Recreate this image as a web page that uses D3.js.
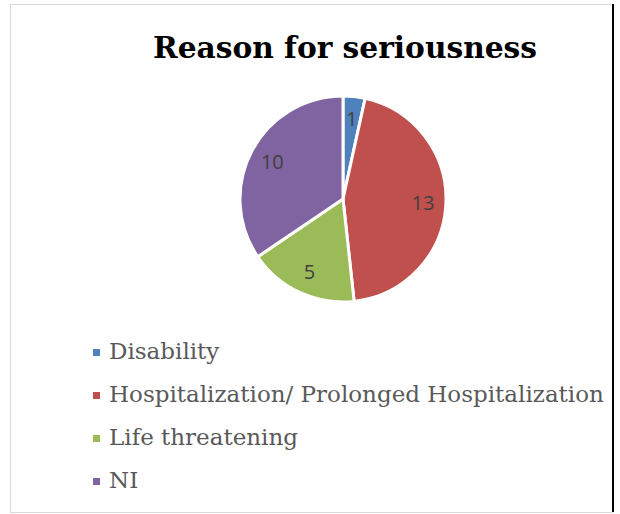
<!DOCTYPE html>
<html>
<head>
<meta charset="utf-8">
<script src="https://cdn.jsdelivr.net/npm/d3@7"></script>
<style>
  body { margin: 0; background: #fff; }
</style>
</head>
<body>
<script>
const categories = ["Disability", "Hospitalization/ Prolonged Hospitalization", "Life threatening", "NI"];
const values = [1, 13, 5, 10];
const colors = ["#4F81BD", "#C0504D", "#9BBB59", "#8064A2"];
const title = "Reason for seriousness";

const w = 620;
const h = 514;

const svg = d3.select("body")
  .append("svg")
  .attr("width", w)
  .attr("height", h);

// chart frame
svg.append("rect")
  .attr("x", 10.5).attr("y", 4.5)
  .attr("width", 602).attr("height", 508)
  .attr("fill", "#fff")
  .attr("stroke", "#d9d9d9");
svg.append("line")
  .attr("x1", 613).attr("x2", 613)
  .attr("y1", 4).attr("y2", 512)
  .attr("stroke", "#000").attr("stroke-width", 2);

svg.append("text")
  .attr("x", 345).attr("y", 58)
  .attr("text-anchor", "middle")
  .attr("font-family", "DejaVu Serif")
  .attr("font-weight", "bold")
  .attr("font-size", 30)
  .attr("textLength", 384)
  .attr("lengthAdjust", "spacingAndGlyphs")
  .text(title);

const data = categories.map((c, i) => ({ name: c, value: values[i], color: colors[i] }));

const cx = 343, cy = 199, r = 103;
const pie = d3.pie().value(d => d.value).sort(null);
const arc = d3.arc().innerRadius(0).outerRadius(r);
const labelArc = d3.arc().innerRadius(80).outerRadius(80);

const g = svg.append("g").attr("transform", `translate(${cx},${cy})`);

g.selectAll("path")
  .data(pie(data))
  .enter()
  .append("path")
  .attr("d", arc)
  .attr("fill", d => d.data.color)
  .attr("stroke", "#fff")
  .attr("stroke-width", 3)
  .attr("stroke-linejoin", "round");

g.selectAll(".lbl")
  .data(pie(data))
  .enter()
  .append("text")
  .attr("class", "lbl")
  .attr("transform", d => `translate(${labelArc.centroid(d)})`)
  .attr("text-anchor", "middle")
  .attr("dy", "0.35em")
  .attr("font-family", "Open Sans")
  .attr("font-size", 20)
  .attr("fill", "#404040")
  .text(d => d.data.value);

// legend
const leg = svg.append("g");
const rows = leg.selectAll(".row")
  .data(data)
  .enter()
  .append("g")
  .attr("class", "row")
  .attr("transform", (d, i) => `translate(93,${359 + i * 43})`);

rows.append("rect")
  .attr("x", 0).attr("y", -10)
  .attr("width", 7).attr("height", 7)
  .attr("fill", d => d.color);

rows.append("text")
  .attr("x", 16).attr("y", 0)
  .attr("font-family", "DejaVu Serif")
  .attr("font-size", 23)
  .attr("fill", "#595959")
  .text(d => d.name);
</script>
</body>
</html>
